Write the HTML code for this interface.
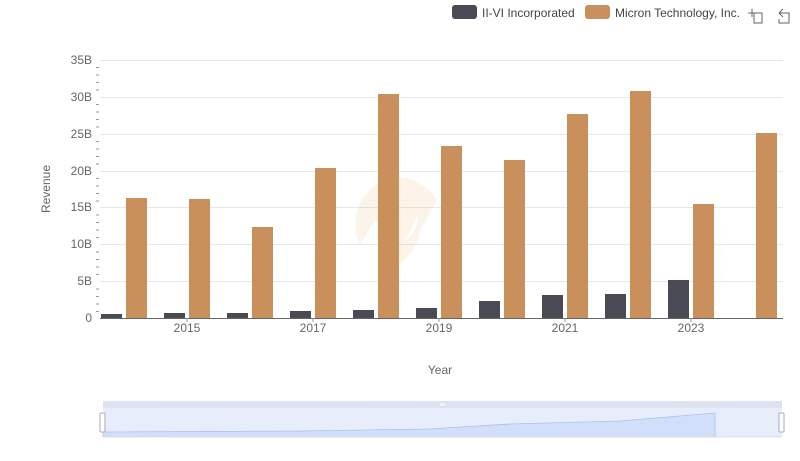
<!DOCTYPE html>
<html><head><meta charset="utf-8"><style>
html,body{margin:0;padding:0;background:#fff;}
svg{display:block;font-family:"Liberation Sans",sans-serif;}
</style></head><body>
<svg width="800" height="461" viewBox="0 0 800 461">
<g stroke="#e3e7f0" stroke-width="1">
<line x1="100" x2="783" y1="60.5" y2="60.5"/><line x1="100" x2="783" y1="97.5" y2="97.5"/>
<line x1="100" x2="783" y1="134.5" y2="134.5"/><line x1="100" x2="783" y1="171.5" y2="171.5"/>
<line x1="100" x2="783" y1="207.5" y2="207.5"/><line x1="100" x2="783" y1="244.5" y2="244.5"/>
<line x1="100" x2="783" y1="281.5" y2="281.5"/>
</g>
<g opacity="0.13" fill="#e8a94e">
<path d="M390 178 A48 48 0 0 1 437 200 L410 248 L420 228 A48 48 0 0 1 380 272 L395 245 A30 30 0 0 0 418 215 L400 250 L375 220 L360 245 A48 48 0 0 1 390 178 Z"/>
</g>
<g fill="#999">
</g>
<g stroke="#999" stroke-width="1" id="mt"></g>
<g fill="#666" font-size="12" text-anchor="end">
<text x="92" y="64">35B</text><text x="92" y="101">30B</text><text x="92" y="138">25B</text>
<text x="92" y="175">20B</text><text x="92" y="211">15B</text><text x="92" y="248">10B</text>
<text x="92" y="285">5B</text><text x="92" y="322">0</text>
</g>
<text x="50" y="189" fill="#666" font-size="12" text-anchor="middle" transform="rotate(-90 50 189)">Revenue</text>
<g fill="#4a4a55">
<rect x="101" y="314" width="21" height="4"/><rect x="164" y="313" width="21" height="5"/>
<rect x="227" y="313" width="21" height="5"/><rect x="290" y="311" width="21" height="7"/>
<rect x="353" y="310" width="21" height="8"/><rect x="416" y="308" width="21" height="10"/>
<rect x="479" y="301" width="21" height="17"/><rect x="542" y="295" width="21" height="23"/>
<rect x="605" y="294" width="21" height="24"/><rect x="668" y="280" width="21" height="38"/>
</g>
<g fill="#c9905c">
<rect x="126" y="198" width="21" height="120"/><rect x="189" y="199" width="21" height="119"/>
<rect x="252" y="227" width="21" height="91"/><rect x="315" y="168" width="21" height="150"/>
<rect x="378" y="94" width="21" height="224"/><rect x="441" y="146" width="21" height="172"/>
<rect x="504" y="160" width="21" height="158"/><rect x="567" y="114" width="21" height="204"/>
<rect x="630" y="91" width="21" height="227"/><rect x="693" y="204" width="21" height="114"/>
<rect x="756" y="133" width="21" height="185"/>
</g>
<line x1="100" x2="783" y1="318.5" y2="318.5" stroke="#666"/>
<g stroke="#999"><line x1="187" x2="187" y1="318" y2="322"/><line x1="313" x2="313" y1="318" y2="322"/><line x1="439" x2="439" y1="318" y2="322"/><line x1="565" x2="565" y1="318" y2="322"/><line x1="691" x2="691" y1="318" y2="322"/></g>
<g fill="#666" font-size="12" text-anchor="middle">
<text x="187" y="332">2015</text><text x="313" y="332">2017</text><text x="439" y="332">2019</text>
<text x="565" y="332">2021</text><text x="691" y="332">2023</text>
<text x="440" y="374">Year</text>
</g>
<rect x="452" y="5" width="25" height="14" rx="3" fill="#4a4a55"/>
<text x="482" y="17" font-size="12" fill="#444">II-VI Incorporated</text>
<rect x="585" y="5" width="25" height="14" rx="3" fill="#c9905c"/>
<text x="615" y="17" font-size="12" fill="#444">Micron Technology, Inc.</text>
<g stroke="#666" fill="none" stroke-width="1">
<path d="M748 13h8M752 9v8M754 13h8v10h-8z"/>
<path d="M779 13l4-4M779 13l4 4M779 13h10v10h-10v-4"/>
</g>
<rect x="103" y="401" width="679" height="36" fill="#e7edfb"/>
<rect x="103" y="401" width="679" height="7" fill="#dce2f0"/>
<path d="M103 432 L300 431 L430 429 L510 424 L620 421 L715 413 L715 437 L103 437 Z" fill="#d2dffa" stroke="#a9bff0" stroke-width="0.8"/>
<line x1="103" x2="782" y1="437" y2="437" stroke="#d8dde8"/>
<rect x="100" y="413" width="5" height="19" fill="#fff" stroke="#aab" rx="1"/>
<rect x="779" y="413" width="5" height="19" fill="#fff" stroke="#aab" rx="1"/>
<g stroke="#fff"><line x1="441" x2="441" y1="403" y2="406"/><line x1="443" x2="443" y1="403" y2="406"/><line x1="445" x2="445" y1="403" y2="406"/></g>
<g stroke="#999">
<line x1="96" x2="99" y1="67.5" y2="67.5"/><line x1="96" x2="99" y1="75" y2="75"/><line x1="96" x2="99" y1="82.5" y2="82.5"/><line x1="96" x2="99" y1="90" y2="90"/>
<line x1="96" x2="99" y1="104.5" y2="104.5"/><line x1="96" x2="99" y1="112" y2="112"/><line x1="96" x2="99" y1="119.5" y2="119.5"/><line x1="96" x2="99" y1="127" y2="127"/>
<line x1="96" x2="99" y1="141.5" y2="141.5"/><line x1="96" x2="99" y1="149" y2="149"/><line x1="96" x2="99" y1="156.5" y2="156.5"/><line x1="96" x2="99" y1="164" y2="164"/>
<line x1="96" x2="99" y1="178.5" y2="178.5"/><line x1="96" x2="99" y1="186" y2="186"/><line x1="96" x2="99" y1="193.5" y2="193.5"/><line x1="96" x2="99" y1="201" y2="201"/>
<line x1="96" x2="99" y1="215" y2="215"/><line x1="96" x2="99" y1="222.5" y2="222.5"/><line x1="96" x2="99" y1="230" y2="230"/><line x1="96" x2="99" y1="237.5" y2="237.5"/>
<line x1="96" x2="99" y1="252" y2="252"/><line x1="96" x2="99" y1="259.5" y2="259.5"/><line x1="96" x2="99" y1="267" y2="267"/><line x1="96" x2="99" y1="274.5" y2="274.5"/>
<line x1="96" x2="99" y1="289" y2="289"/><line x1="96" x2="99" y1="296.5" y2="296.5"/><line x1="96" x2="99" y1="304" y2="304"/><line x1="96" x2="99" y1="311.5" y2="311.5"/>
</g>
</svg>
</body></html>
